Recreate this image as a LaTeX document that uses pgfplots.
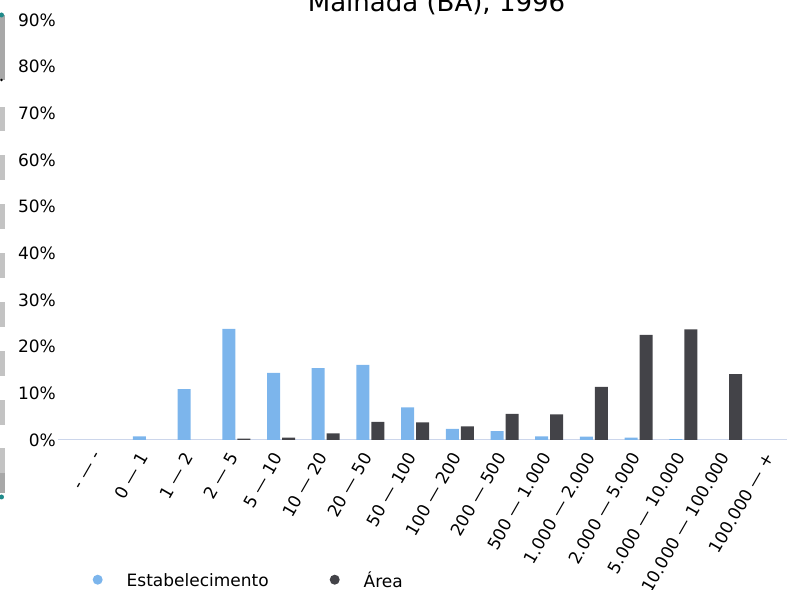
\documentclass[border=0pt]{standalone}
\usepackage{fontspec}
\setmainfont{DejaVu Sans}
\usepackage{pgfplots}
\pgfplotsset{compat=1.18}
\definecolor{cA}{HTML}{7CB5EC}
\definecolor{cB}{HTML}{434348}
\definecolor{axl}{HTML}{CCD6EB}
\definecolor{sbd}{HTML}{A8A8A8}
\definecolor{sbl}{HTML}{C3C3C3}
\definecolor{teal1}{HTML}{1F8A8A}
\newcommand{\tf}{\fontsize{17}{20}\selectfont}
\begin{document}
\begin{tikzpicture}[x=1pt,y=1pt]
\useasboundingbox (0,0) rectangle (787,589);
% left-edge scrollbar artefact
\fill[sbd] (0,509) rectangle (5,574);
\foreach \a/\b in {107/131,155/180,204/229,253/278,302/327,351/376,400/425,448/473}{
  \fill[sbl] (0,589-\b) rectangle (5,589-\a);
}
\fill[sbd] (0,96) rectangle (5,116);
\fill[teal1] (1.5,574) circle (2.5);
\fill[teal1] (1.5,92) circle (2.5);
\fill[black] (1.5,509) circle (1.3);
\begin{axis}[
  at={(58pt,149pt)}, anchor=south west,
  scale only axis, width=729pt, height=420pt,
  xmin=-0.99, xmax=15.32, ymin=0, ymax=90,
  separate axis lines,
  axis x line*=bottom, x axis line style={draw=axl, line width=1pt, -},
  axis y line*=left, y axis line style={draw=none},
  major tick length=0pt,
  xtick={0,...,15},
  xticklabels={- — -,0 — 1,1 — 2,2 — 5,5 — 10,10 — 20,20 — 50,50 — 100,100 — 200,200 — 500,500 — 1.000,1.000 — 2.000,2.000 — 5.000,5.000 — 10.000,10.000 — 100.000,100.000 — +},
  xticklabel style={xshift=-3pt, yshift=-14pt, rotate=60, anchor=east, inner sep=0pt, font=\tf},
  ytick={0,10,...,90},
  yticklabel={\pgfmathprintnumber{\tick}\%},
  yticklabel style={anchor=east, inner sep=0pt, xshift=-2pt, font=\tf},
  /pgf/number format/assume math mode=true,
  legend style={at={(axis description cs:0.0473,-0.335)}, anchor=west, draw=none, fill=none, inner sep=0pt, legend columns=2, font=\tf, nodes={inner sep=0pt}, /tikz/every even column/.append style={column sep=61pt}},
]
\addplot[ybar, bar width=13pt, bar shift=-7.5pt, fill=cA, draw=none,
  legend image code/.code={\fill[cA,draw=none] (0pt,1pt) circle (5pt); \path[draw=none,fill=none] (-5pt,0pt) rectangle (29pt,1pt);}]
  coordinates {(1,0.8) (2,10.9) (3,23.8) (4,14.4) (5,15.4) (6,16.1) (7,7.0) (8,2.4) (9,1.9) (10,0.8) (11,0.7) (12,0.5) (13,0.2)};
\addlegendentry{Estabelecimento}
\addplot[ybar, bar width=13pt, bar shift=7.5pt, fill=cB, draw=none,
  legend image code/.code={\fill[cB,draw=none] (0pt,1pt) circle (5pt); \path[draw=none,fill=none] (-5pt,0pt) rectangle (29pt,1pt);}]
  coordinates {(3,0.3) (4,0.5) (5,1.4) (6,3.9) (7,3.8) (8,2.9) (9,5.6) (10,5.5) (11,11.4) (12,22.5) (13,23.7) (14,14.1)};
\addlegendentry{Área}
\end{axis}
\node[anchor=base, font=\fontsize{26}{30}\selectfont, inner sep=0pt] at (436.5,577) {Malhada (BA), 1996};
\end{tikzpicture}
\end{document}
